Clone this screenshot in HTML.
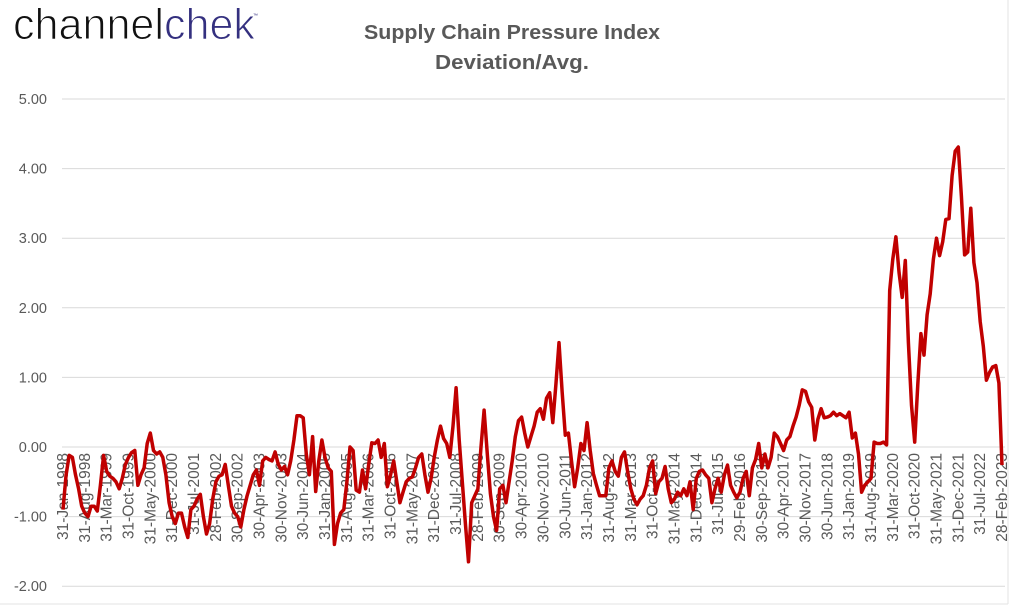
<!DOCTYPE html>
<html><head><meta charset="utf-8"><style>
html,body{margin:0;padding:0;background:#fff;}
svg{display:block;font-family:"Liberation Sans",sans-serif;}
</style></head><body>
<svg id="chart" width="1024" height="607" viewBox="0 0 1024 607">
<rect x="0" y="0" width="1024" height="607" fill="#fff"/>
<line x1="1008" y1="0" x2="1008" y2="604" stroke="#e3e3e3"/>
<line x1="0" y1="604" x2="1008" y2="604" stroke="#e3e3e3"/>
<g>
<text x="13" y="39" font-size="44" textLength="242" lengthAdjust="spacingAndGlyphs" fill="#111" stroke="#fff" stroke-width="1.1" paint-order="normal">channel<tspan fill="#34307f">chek</tspan></text>
<text x="253" y="17" font-size="5" fill="#34307f">™</text>
</g>
<text x="512" y="39" text-anchor="middle" font-size="20" font-weight="bold" textLength="296" lengthAdjust="spacingAndGlyphs" fill="#595959">Supply Chain Pressure Index</text>
<text x="512" y="69" text-anchor="middle" font-size="20" font-weight="bold" textLength="154" lengthAdjust="spacingAndGlyphs" fill="#595959">Deviation/Avg.</text>
<g id="grid"></g>
<g id="ylabels"></g>
<g id="xlabels"></g>
<g id="series"></g>
</svg>
<script>
const values = [-0.9,-0.4,-0.12,-0.15,-0.4,-0.6,-0.85,-0.95,-1.0,-0.85,-0.85,-0.92,
-0.55,-0.12,-0.35,-0.42,-0.45,-0.5,-0.6,-0.45,-0.25,-0.15,-0.08,-0.05,
-0.55,-0.4,-0.3,0.05,0.2,-0.05,-0.1,-0.07,-0.15,-0.4,-0.8,-1.0,
-1.1,-0.95,-0.95,-1.15,-1.3,-0.9,-0.85,-0.75,-0.68,-1.0,-1.25,-1.1,
-0.75,-0.5,-0.42,-0.4,-0.25,-0.55,-0.85,-0.95,-1.0,-1.15,-0.9,-0.7,
-0.55,-0.4,-0.33,-0.55,-0.2,-0.15,-0.18,-0.2,-0.07,-0.25,-0.33,-0.28,
-0.4,-0.2,0.1,0.45,0.45,0.42,-0.1,-0.4,0.15,-0.64,-0.2,0.1,
-0.15,-0.3,-0.35,-1.4,-1.1,-0.95,-0.9,-0.5,0.0,-0.05,-0.62,-0.65,
-0.33,-0.6,-0.25,0.06,0.05,0.1,-0.15,0.05,-0.57,-0.4,-0.2,-0.5,
-0.8,-0.65,-0.5,-0.45,-0.43,-0.3,-0.15,-0.1,-0.4,-0.65,-0.45,-0.15,
0.1,0.3,0.12,0.05,-0.15,0.3,0.85,0.1,-0.5,-1.1,-1.65,-0.8,
-0.7,-0.6,0.0,0.53,-0.1,-0.67,-1.0,-1.2,-0.6,-0.55,-0.8,-0.5,
-0.2,0.15,0.38,0.43,0.2,0.0,0.15,0.3,0.5,0.55,0.4,0.7,
0.78,0.35,0.9,1.5,0.8,0.17,0.2,-0.2,-0.57,-0.3,0.05,-0.05,
0.35,-0.05,-0.38,-0.55,-0.7,-0.7,-0.7,-0.3,-0.2,-0.35,-0.42,-0.15,
-0.07,-0.35,-0.6,-0.75,-0.83,-0.75,-0.7,-0.55,-0.3,-0.2,-0.67,-0.5,
-0.45,-0.28,-0.6,-0.8,-0.75,-0.65,-0.7,-0.6,-0.7,-0.5,-0.9,-0.45,
-0.35,-0.33,-0.4,-0.45,-0.8,-0.6,-0.45,-0.65,-0.4,-0.26,-0.55,-0.65,
-0.73,-0.65,-0.45,-0.35,-0.7,-0.3,-0.18,0.05,-0.3,-0.1,-0.3,-0.15,
0.2,0.15,0.05,-0.05,0.1,0.15,0.3,0.43,0.6,0.82,0.8,0.65,
0.57,0.1,0.4,0.55,0.42,0.43,0.45,0.5,0.45,0.48,0.45,0.42,
0.5,0.13,0.2,-0.1,-0.65,-0.55,-0.5,-0.45,0.07,0.05,0.05,0.07,
0.03,2.25,2.7,3.02,2.5,2.15,2.68,1.5,0.6,0.07,0.9,1.63,
1.32,1.9,2.2,2.7,3.0,2.75,2.95,3.27,3.28,3.9,4.25,4.31,
3.6,2.76,2.8,3.43,2.65,2.36,1.8,1.45,0.96,1.07,1.15,1.17,
0.92,-0.26];
const yTicks = [5,4,3,2,1,0,-1,-2];
const startYear = 1998;
const labelEvery = 7;
const months = ["Jan","Feb","Mar","Apr","May","Jun","Jul","Aug","Sep","Oct","Nov","Dec"];

const NS = "http://www.w3.org/2000/svg";
const x0 = 63, x1 = 1002;
const xs = i => x0 + (x1 - x0) * i / (values.length - 1);
const ys = v => 447 - v * 69.6;

const grid = document.getElementById('grid');
const yl = document.getElementById('ylabels');
yTicks.forEach(t => {
  const l = document.createElementNS(NS, 'line');
  l.setAttribute('x1', 62); l.setAttribute('x2', 1005);
  l.setAttribute('y1', ys(t)); l.setAttribute('y2', ys(t));
  l.setAttribute('stroke', '#d9d9d9'); l.setAttribute('stroke-width', '1');
  
  
  grid.appendChild(l);
  const tx = document.createElementNS(NS, 'text');
  tx.setAttribute('x', 47); tx.setAttribute('y', ys(t) + 5);
  tx.setAttribute('text-anchor', 'end'); tx.setAttribute('font-size', '14.5');
  tx.setAttribute('fill', '#595959');
  tx.textContent = t.toFixed(2);
  
  
  yl.appendChild(tx);
});

const xl = document.getElementById('xlabels');
for (let i = 0; i < values.length; i += labelEvery) {
  const yr = startYear + Math.floor(i / 12), m = i % 12;
  const day = new Date(Date.UTC(yr, m + 1, 0)).getUTCDate();
  const label = day + "-" + months[m] + "-" + yr;
  const x = xs(i) + 5, y = 453;
  const tx = document.createElementNS(NS, 'text');
  tx.setAttribute('x', x); tx.setAttribute('y', y);
  tx.setAttribute('transform', `rotate(-90 ${x} ${y})`);
  tx.setAttribute('text-anchor', 'end'); tx.setAttribute('font-size', '15.5');
  tx.setAttribute('fill', '#595959');
  tx.textContent = label;
  
  
  xl.appendChild(tx);
}

const p = document.createElementNS(NS, 'path');
p.setAttribute('d', values.map((v, i) => (i ? 'L' : 'M') + xs(i).toFixed(1) + ' ' + ys(v).toFixed(1)).join(' '));
p.setAttribute('fill', 'none'); p.setAttribute('stroke', '#c00000');
p.setAttribute('stroke-width', '3.5'); p.setAttribute('stroke-linejoin', 'round');


document.getElementById('series').appendChild(p);
</script>
</body></html>
